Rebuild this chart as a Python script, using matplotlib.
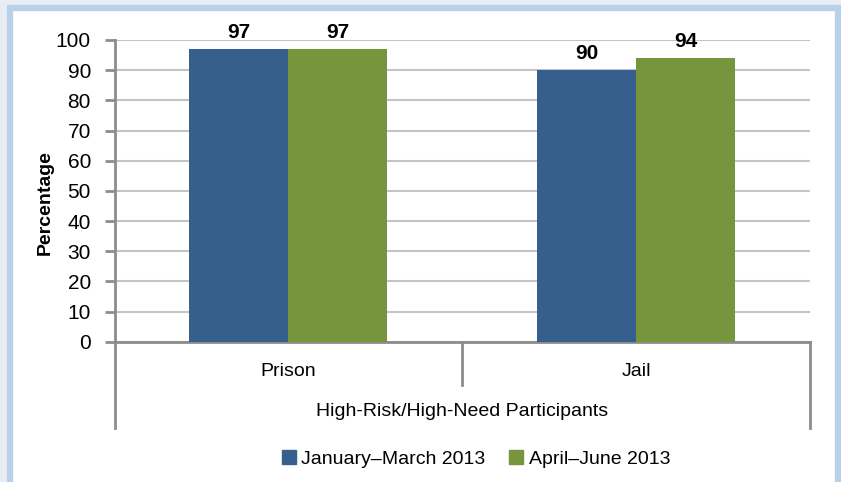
import matplotlib
matplotlib.use("Agg")
import matplotlib.pyplot as plt
import matplotlib.patches as patches
import numpy as np

categories = ["Prison", "Jail"]
group_label = "High-Risk/High-Need Participants"
series_names = ["January\u2013March 2013", "April\u2013June 2013"]
jan_mar = [97, 90]
apr_jun = [97, 94]
colors = ["#375F8E", "#77953C"]

plt.rcParams['font.family'] = ['Liberation Sans Narrow', 'Liberation Sans', 'DejaVu Sans']

W, H = 841, 482
fig = plt.figure(figsize=(W / 100, H / 100), dpi=100)
fig.patch.set_facecolor("#E7EDF5")

# white panel with light blue frame
frame = patches.Rectangle((10 / W, -0.1), (828 / W), (H - 8) / H + 0.1,
                          transform=fig.transFigure, facecolor="white",
                          edgecolor="#B9D0E9", linewidth=4.5, zorder=-5)
fig.patches.append(frame)

left, right, top, bottom = 114.5, 810, 40, 341.7
ax = fig.add_axes([left / W, (H - bottom) / H, (right - left) / W, (bottom - top) / H])
ax.set_facecolor("none")
ax.set_zorder(2)

x = np.arange(len(categories))
bw = 0.285
b1 = ax.bar(x - bw / 2, jan_mar, bw, color=colors[0], label=series_names[0], zorder=3)
b2 = ax.bar(x + bw / 2, apr_jun, bw, color=colors[1], label=series_names[1], zorder=3)

for bars, vals in [(b1, jan_mar), (b2, apr_jun)]:
    for b, v in zip(bars, vals):
        ax.text(b.get_x() + b.get_width() / 2, v + 2.3, str(v), ha="center", va="bottom",
                fontsize=15, fontweight="bold", zorder=4)

ax.set_xlim(-0.5, 1.5)
ax.set_ylim(0, 100)
ax.set_yticks(range(0, 101, 10))
ax.tick_params(axis="y", labelsize=15, length=7, width=2, color="#8C8C8C", pad=10)
ax.grid(axis="y", color="#C4C4C4", linewidth=1.5, zorder=0)
for s in ["top", "right"]:
    ax.spines[s].set_visible(False)
ax.spines["left"].set_color("#8C8C8C")
ax.spines["left"].set_linewidth(2)
ax.spines["bottom"].set_color("#8C8C8C")
ax.spines["bottom"].set_linewidth(2)

ax.set_xticks(x)
ax.set_xticklabels(categories)
ax.tick_params(axis="x", length=0, labelsize=14, pad=15)

ax.set_ylabel("Percentage", fontsize=14, fontweight="bold")
ax.yaxis.set_label_coords(-0.087, 0.46)

# category separators below the axis
trans = ax.get_xaxis_transform()
ax.plot([-0.5, -0.5], [0, -0.286], transform=trans, color="#8C8C8C", lw=2, clip_on=False)
ax.plot([1.5, 1.5], [0, -0.286], transform=trans, color="#8C8C8C", lw=2, clip_on=False)
ax.plot([0.5, 0.5], [0, -0.1435], transform=trans, color="#8C8C8C", lw=2, clip_on=False)
ax.text(0.5, -0.232, group_label, transform=trans, ha="center", va="center", fontsize=14)

handles = [patches.Patch(color=c) for c in colors]
fig.legend(handles, series_names, loc="center", bbox_to_anchor=(476 / W, (H - 459) / H),
           ncol=2, frameon=False, fontsize=14, handlelength=0.72, handleheight=0.72,
           handletextpad=0.3, columnspacing=1.2)

fig.savefig("out.png", dpi=100, facecolor=fig.get_facecolor())
